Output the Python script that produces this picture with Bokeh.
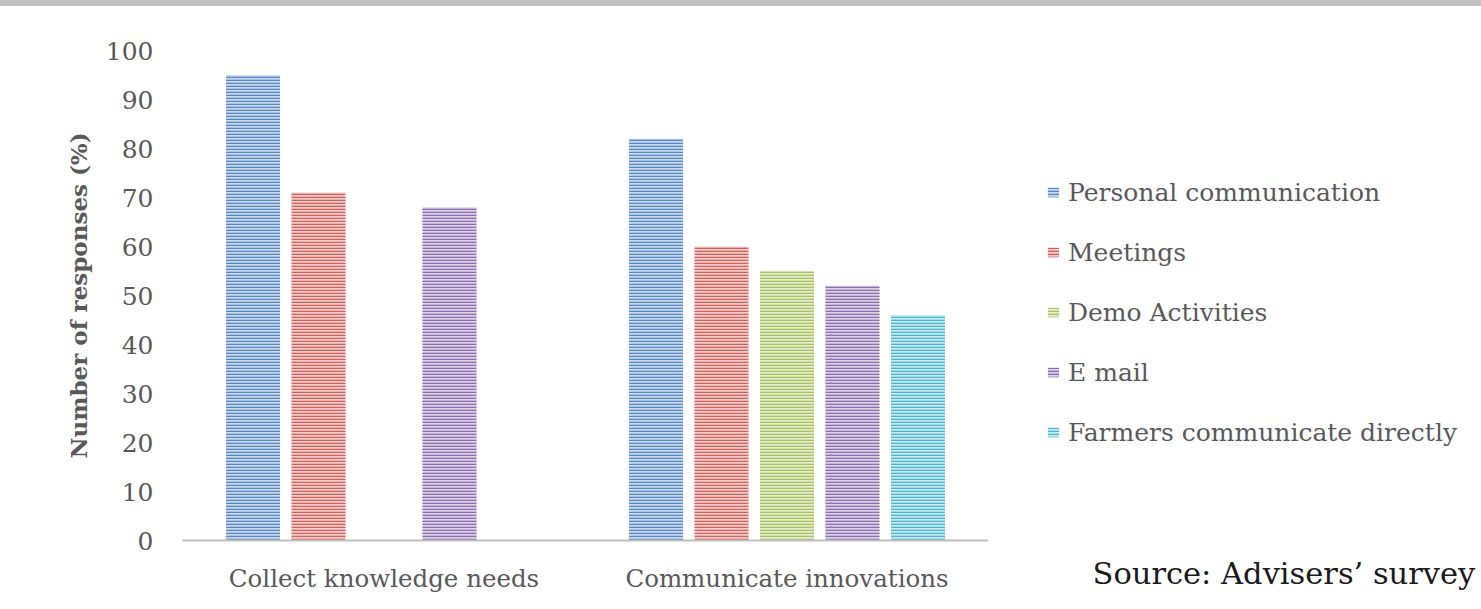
from bokeh.plotting import figure
from bokeh.models import (ColumnDataSource, FactorRange, Range1d, FixedTicker,
                          Legend, LegendItem, Title)
from bokeh.transform import dodge
from bokeh.layouts import row, column
from bokeh.embed import file_html
from bokeh.resources import INLINE

# Survey results: share of advisers naming each channel (%)
categories = ["Collect knowledge needs", "Communicate innovations"]
series_names = ["Personal communication", "Meetings", "Demo Activities",
                "E mail", "Farmers communicate directly"]
personal_communication = [95, 82]
meetings = [71, 60]
demo_activities = [0, 55]
e_mail = [68, 52]
farmers_communicate_directly = [0, 46]
y_ticks = [0, 10, 20, 30, 40, 50, 60, 70, 80, 90, 100]

series_values = [personal_communication, meetings, demo_activities,
                 e_mail, farmers_communicate_directly]

# stripe colour / background colour per series
hatch_colors = ["#5a87c5", "#d4625c", "#a6c266", "#8b70ae", "#4cb5cc"]
fill_colors = ["#c9daf0", "#f5cdca", "#e4eecb", "#dcd1e9", "#c8eaf2"]
offsets = [-0.325, -0.1625, 0.0, 0.1625, 0.325]

FONT = "DejaVu Serif"
GREY = "#595959"

data = {"cat": categories}
for i, vals in enumerate(series_values):
    data[f"s{i}"] = vals
source = ColumnDataSource(data)

# main bar chart
p = figure(
    x_range=FactorRange(*categories, range_padding=0.0),
    y_range=Range1d(0, 100),
    width=988, height=603,
    min_border_left=182, min_border_right=0,
    min_border_top=44, min_border_bottom=69,
    output_backend="svg", toolbar_location=None,
    background_fill_color="white", border_fill_color="white",
)
p.outline_line_color = None
p.xgrid.grid_line_color = None
p.ygrid.grid_line_color = None

bar_style = []
for i, name in enumerate(series_names):
    style = dict(fill_color=fill_colors[i], line_color=None,
                 hatch_pattern="horizontal_line", hatch_color=hatch_colors[i],
                 hatch_scale=3, hatch_weight=1.6)
    bar_style.append(style)
    p.vbar(x=dodge("cat", offsets[i], range=p.x_range),
           top=f"s{i}", width=0.134, source=source, **style)

p.yaxis.ticker = FixedTicker(ticks=y_ticks)
p.yaxis.axis_line_color = None
p.yaxis.major_tick_line_color = None
p.yaxis.minor_tick_line_color = None
p.yaxis.major_label_standoff = 23
p.yaxis.major_label_text_font = FONT
p.yaxis.major_label_text_font_size = "25px"
p.yaxis.major_label_text_color = GREY
p.yaxis.axis_label = "Number of responses (%)"
p.yaxis.axis_label_text_font = FONT
p.yaxis.axis_label_text_font_size = "23px"
p.yaxis.axis_label_text_font_style = "bold"
p.yaxis.axis_label_text_color = GREY
p.yaxis.axis_label_standoff = 11

p.xaxis.axis_line_color = "#bfbfbf"
p.xaxis.axis_line_width = 2
p.xaxis.major_tick_line_color = None
p.xaxis.minor_tick_line_color = None
p.xaxis.major_label_standoff = 17
p.xaxis.major_label_text_font = FONT
p.xaxis.major_label_text_font_size = "24.5px"
p.xaxis.major_label_text_color = GREY

# side panel holding the legend and the source note
side = figure(
    x_range=Range1d(0, 10), y_range=Range1d(0, 10),
    width=493, height=603, min_border=0,
    x_axis_type=None, y_axis_type=None,
    output_backend="svg", toolbar_location=None,
    background_fill_color="white", border_fill_color="white",
)
side.outline_line_color = None
side.grid.grid_line_color = None

# legend swatches: renderers that sit outside the visible range
items = []
for i, name in enumerate(series_names):
    r = side.vbar(x=[-5], top=[-5], width=1, **bar_style[i])
    items.append(LegendItem(label=name, renderers=[r]))

legend = Legend(
    items=items, location=(58, 93),
    label_text_font=FONT, label_text_font_size="25px",
    label_text_color=GREY, glyph_width=14, glyph_height=12,
    label_height=30, label_standoff=8, spacing=30, padding=0, margin=0,
    border_line_color=None, background_fill_alpha=0,
)
side.add_layout(legend)

side.add_layout(Title(
    text="Source: Advisers\u2019 survey", align="left", offset=104,
    text_font=FONT, text_font_size="30.5px", text_font_style="normal",
    text_color="#1a1a1a", standoff=27,
), "below")

layout = column(row(p, side, spacing=0), spacing=0,
                styles={"border-top": "6px solid #c2c2c2"})
open("out.html", "w").write(file_html(layout, INLINE))
